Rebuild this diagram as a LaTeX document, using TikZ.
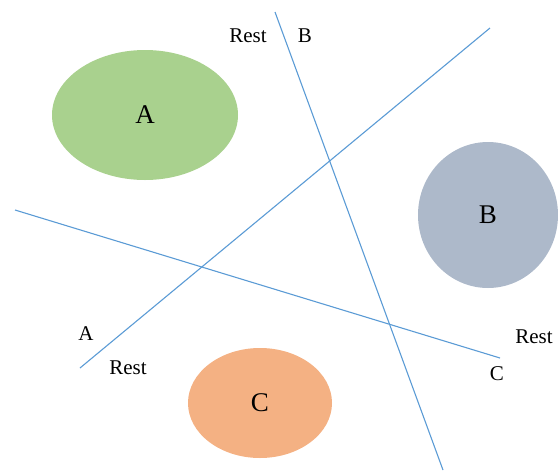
\documentclass[tikz,border=0pt]{standalone}
\usepackage{fontspec}
\setmainfont{Liberation Serif}
\usetikzlibrary{shapes.geometric}

\begin{document}
\begin{tikzpicture}[
    x=1pt, y=-1pt,
    blob/.style={ellipse, draw=none, inner sep=0pt, font=\fontsize{27}{27}\selectfont},
    lbl/.style={font=\fontsize{21}{21}\selectfont, inner sep=0pt},
    cut/.style={draw={rgb,255:red,91;green,155;blue,213}, line width=1.1pt},
]
\useasboundingbox (0,0) rectangle (558,475);

\node[blob, fill={rgb,255:red,169;green,209;blue,142}, minimum width=186, minimum height=130] (ea) at (145,115) {A};
\node[blob, fill={rgb,255:red,173;green,185;blue,202}, minimum width=140, minimum height=146] (eb) at (488,215) {B};
\node[blob, fill={rgb,255:red,244;green,177;blue,131}, minimum width=144, minimum height=110] (ec) at (260,403) {C};

% cutting lines
\coordinate (b1) at (275,12);
\coordinate (b2) at (443,470);
\coordinate (a1) at (80,368);
\coordinate (a2) at (490,28);
\coordinate (c1) at (15,210);
\coordinate (c2) at (500,358);

\draw[cut] (b1) -- (b2);
\draw[cut] (a1) -- (a2);
\draw[cut] (c1) -- (c2);

\node[lbl] (rb) at (248,36) {Rest};
\node[lbl] (lb) at (305,36) {B};
\node[lbl] (la) at (86,334) {A};
\node[lbl] (ra) at (128,368) {Rest};
\node[lbl] (rc) at (534,337) {Rest};
\node[lbl] (lc) at (497,374) {C};
\end{tikzpicture}
\end{document}
